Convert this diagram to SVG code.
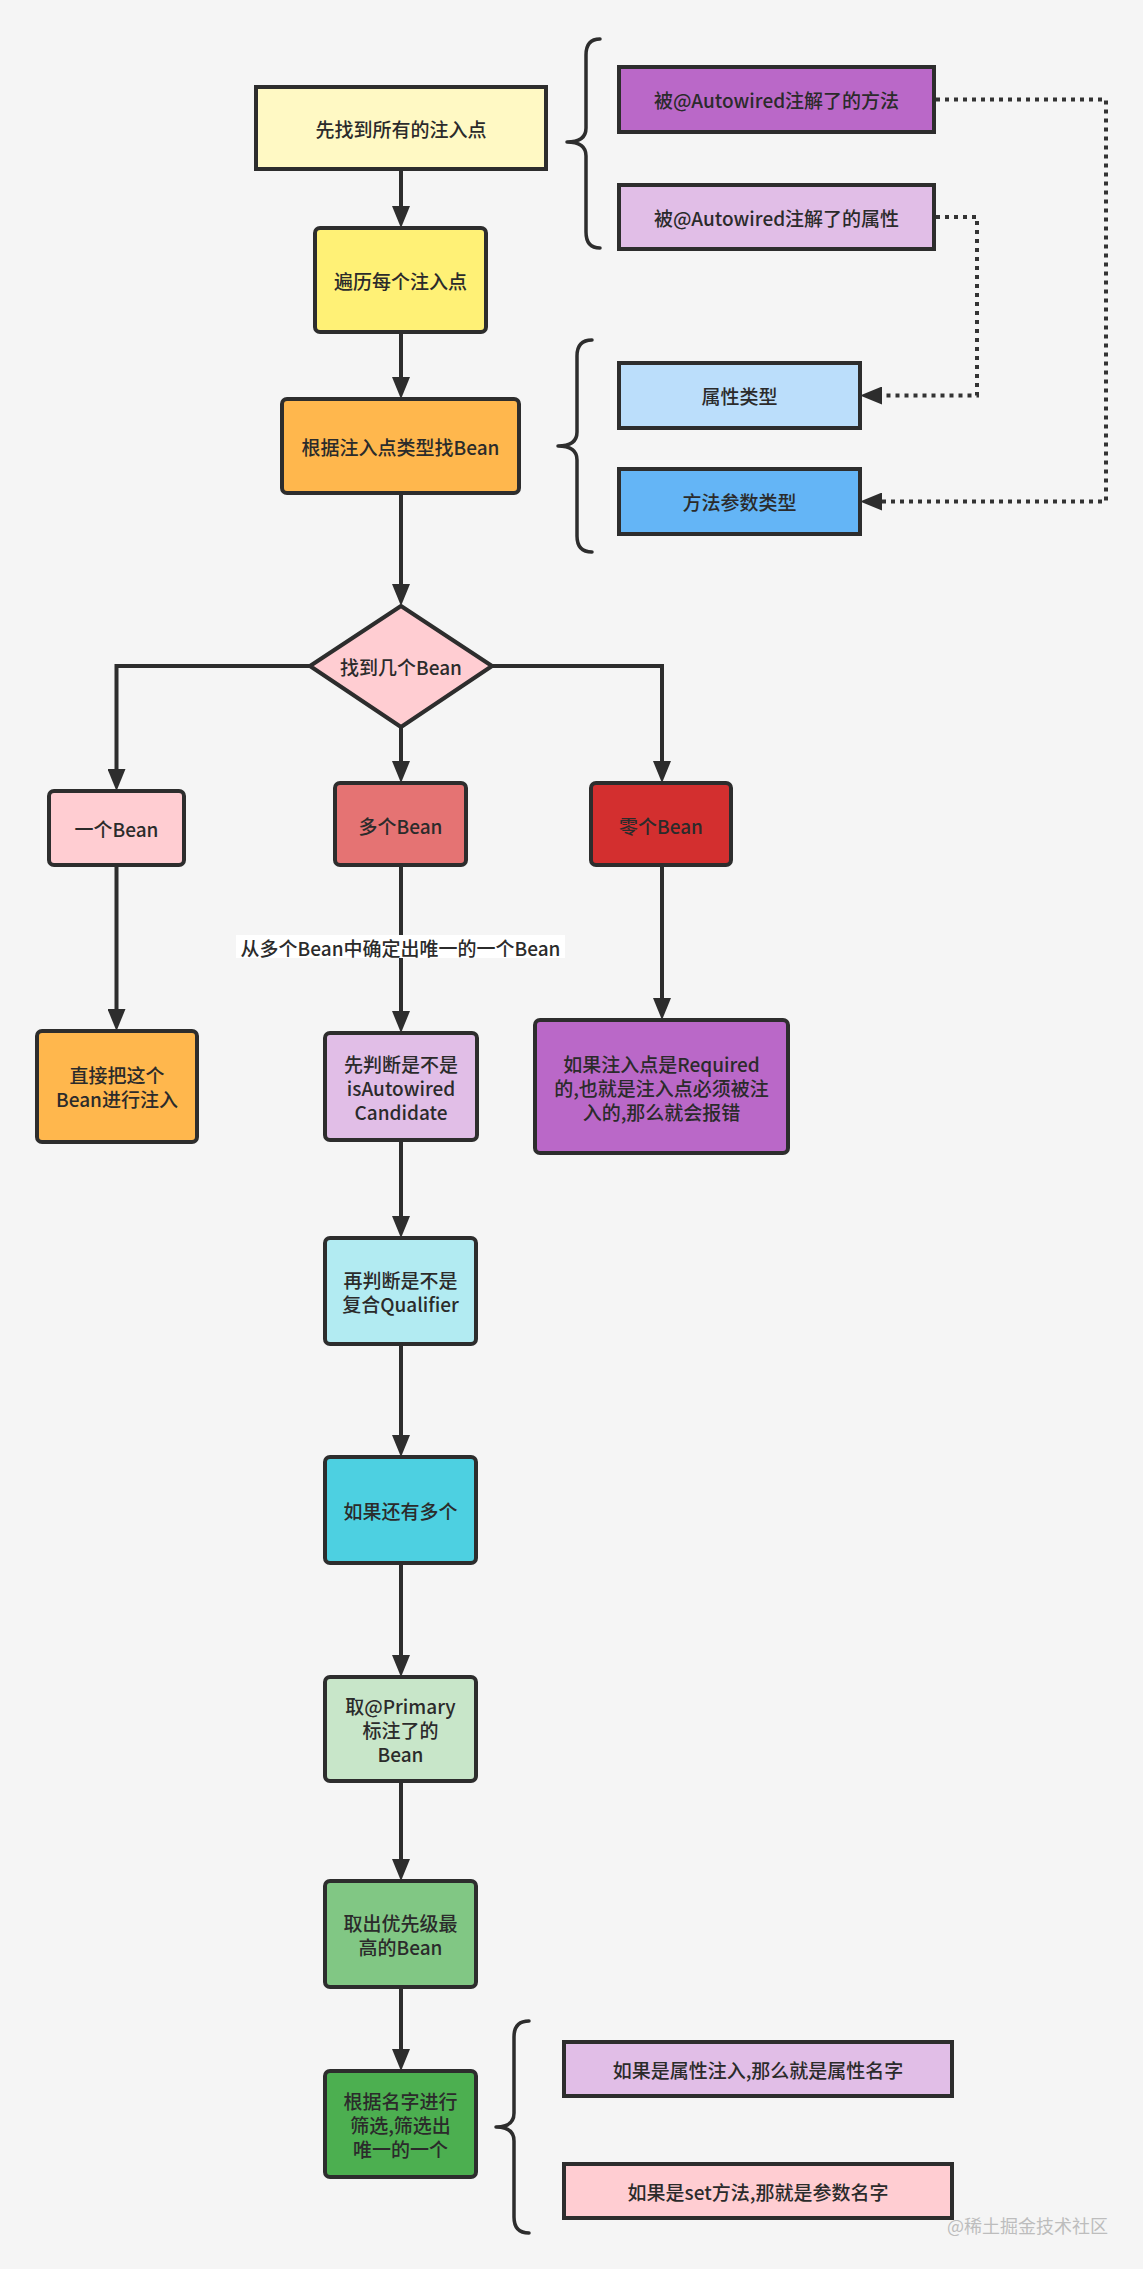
<svg xmlns="http://www.w3.org/2000/svg" width="1143" height="2269" viewBox="0 0 1143 2269">
<style>
.bg{fill:#f5f5f5}
.n{stroke:#2d2d2d;stroke-width:4}
.t{font-family:"Noto Sans CJK SC","Noto Sans",sans-serif;font-size:19px;font-weight:500;fill:#2b2b2b;text-anchor:middle;dominant-baseline:central}
.c{fill:none;stroke:#2d2d2d;stroke-width:4}
.d{fill:none;stroke:#333;stroke-width:4;stroke-dasharray:4 5}
.br{fill:none;stroke:#2d2d2d;stroke-width:3.5;stroke-linecap:round;stroke-linejoin:round}
.wm{font-family:"Noto Sans CJK SC",sans-serif;font-size:18px;fill:#bdbdbd;dominant-baseline:central}
</style>
<defs>
<marker id="ah" viewBox="0 0 22 18" refX="1" refY="9" markerWidth="22" markerHeight="18" markerUnits="userSpaceOnUse" orient="auto">
<path d="M0,0 L22,9 L0,18 Z" fill="#2d2d2d"/>
</marker>
</defs>
<rect class="bg" x="0" y="0" width="1143" height="2269"/>

<g id="connectors">
<path class="c" d="M401,169 L401,207" marker-end="url(#ah)"/>
<path class="c" d="M401,332 L401,378" marker-end="url(#ah)"/>
<path class="c" d="M401,493 L401,585" marker-end="url(#ah)"/>
<path class="c" d="M310,666 L116.5,666 L116.5,770" marker-end="url(#ah)"/>
<path class="c" d="M401,727 L401,762" marker-end="url(#ah)"/>
<path class="c" d="M492,666 L662,666 L662,762" marker-end="url(#ah)"/>
<path class="c" d="M116.5,865 L116.5,1010" marker-end="url(#ah)"/>
<path class="c" d="M401,865 L401,1012" marker-end="url(#ah)"/>
<path class="c" d="M662,865 L662,999" marker-end="url(#ah)"/>
<path class="c" d="M401,1140 L401,1217" marker-end="url(#ah)"/>
<path class="c" d="M401,1344 L401,1436" marker-end="url(#ah)"/>
<path class="c" d="M401,1563 L401,1656" marker-end="url(#ah)"/>
<path class="c" d="M401,1781 L401,1860" marker-end="url(#ah)"/>
<path class="c" d="M401,1987 L401,2050" marker-end="url(#ah)"/>
<path class="d" d="M936,99.5 L1106,99.5 L1106,501.5 L881,501.5" marker-end="url(#ah)"/>
<path class="d" d="M936,217 L977,217 L977,395.5 L881,395.5" marker-end="url(#ah)"/>
<rect x="236" y="935" width="329" height="23" fill="#ffffff"/>
<text class="t" x="400.5" y="947">从多个Bean中确定出唯一的一个Bean</text>
</g>

<g id="braces">
<path class="br" d="M600,39 Q586,39 586,55 L586,128 Q586,142 567,142 Q586,142 586,156 L586,232 Q586,248 600,248"/>
<path class="br" d="M592,340 Q577,340 577,356 L577,432 Q577,446 558,446 Q577,446 577,460 L577,536 Q577,552 592,552"/>
<path class="br" d="M529,2021 Q514,2021 514,2037 L514,2113 Q514,2127 496,2127 Q514,2127 514,2141 L514,2217 Q514,2233 529,2233"/>
</g>

<g id="n1"><rect class="n" x="256" y="87" width="290" height="82" fill="#fff9c4"/><text class="t" x="401" y="128">先找到所有的注入点</text></g>
<g id="n2"><rect class="n" x="315" y="228" width="171" height="104" rx="5" fill="#fff176"/><text class="t" x="400.5" y="280">遍历每个注入点</text></g>
<g id="n3"><rect class="n" x="282" y="399" width="237" height="94" rx="5" fill="#ffb74d"/><text class="t" x="400.5" y="446">根据注入点类型找Bean</text></g>
<g id="m1"><rect class="n" x="619" y="67" width="315" height="65" fill="#ba68c8"/><text class="t" x="776.5" y="99.5">被@Autowired注解了的方法</text></g>
<g id="m2"><rect class="n" x="619" y="185" width="315" height="64" fill="#e1bee7"/><text class="t" x="776.5" y="217">被@Autowired注解了的属性</text></g>
<g id="t1"><rect class="n" x="619" y="363" width="241" height="65" fill="#bbdefb"/><text class="t" x="739.5" y="395.5">属性类型</text></g>
<g id="t2"><rect class="n" x="619" y="469" width="241" height="65" fill="#64b5f6"/><text class="t" x="739.5" y="501.5">方法参数类型</text></g>
<g id="dec"><polygon class="n" points="401,606 492,666 401,727 310,666" fill="#ffcdd2" stroke-linejoin="round"/><text class="t" x="401" y="666">找到几个Bean</text></g>
<g id="one"><rect class="n" x="49" y="791" width="135" height="74" rx="5" fill="#ffcdd2"/><text class="t" x="116.5" y="828">一个Bean</text></g>
<g id="many"><rect class="n" x="335" y="783" width="131" height="82" rx="5" fill="#e57373"/><text class="t" x="400.5" y="825">多个Bean</text></g>
<g id="zero"><rect class="n" x="591" y="783" width="140" height="82" rx="5" fill="#d32f2f"/><text class="t" x="661" y="825">零个Bean</text></g>
<g id="direct"><rect class="n" x="37" y="1031" width="160" height="111" rx="5" fill="#ffb74d"/><text class="t" x="117" y="1074.5">直接把这个</text><text class="t" x="117" y="1098.5">Bean进行注入</text></g>
<g id="check1"><rect class="n" x="325" y="1033" width="152" height="107" rx="5" fill="#e1bee7"/><text class="t" x="401" y="1063">先判断是不是</text><text class="t" x="401" y="1087">isAutowired</text><text class="t" x="401" y="1111">Candidate</text></g>
<g id="error"><rect class="n" x="535" y="1020" width="253" height="133" rx="5" fill="#ba68c8"/><text class="t" x="661.5" y="1063">如果注入点是Required</text><text class="t" x="661.5" y="1087">的,也就是注入点必须被注</text><text class="t" x="661.5" y="1111">入的,那么就会报错</text></g>
<g id="check2"><rect class="n" x="325" y="1238" width="151" height="106" rx="5" fill="#b2ebf2"/><text class="t" x="400.5" y="1279">再判断是不是</text><text class="t" x="400.5" y="1303">复合Qualifier</text></g>
<g id="still"><rect class="n" x="325" y="1457" width="151" height="106" rx="5" fill="#4dd0e1"/><text class="t" x="400.5" y="1510">如果还有多个</text></g>
<g id="primary"><rect class="n" x="325" y="1677" width="151" height="104" rx="5" fill="#c8e6c9"/><text class="t" x="400.5" y="1705">取@Primary</text><text class="t" x="400.5" y="1729">标注了的</text><text class="t" x="400.5" y="1753">Bean</text></g>
<g id="priority"><rect class="n" x="325" y="1881" width="151" height="106" rx="5" fill="#81c784"/><text class="t" x="400.5" y="1922">取出优先级最</text><text class="t" x="400.5" y="1946">高的Bean</text></g>
<g id="byname"><rect class="n" x="325" y="2071" width="151" height="106" rx="5" fill="#4caf50"/><text class="t" x="400.5" y="2100">根据名字进行</text><text class="t" x="400.5" y="2124">筛选,筛选出</text><text class="t" x="400.5" y="2148">唯一的一个</text></g>
<g id="propname"><rect class="n" x="564" y="2042" width="388" height="54" fill="#e1bee7"/><text class="t" x="758" y="2069">如果是属性注入,那么就是属性名字</text></g>
<g id="setname"><rect class="n" x="564" y="2164" width="388" height="54" fill="#ffcdd2"/><text class="t" x="758" y="2191">如果是set方法,那就是参数名字</text></g>
<text class="wm" x="947" y="2225">@稀土掘金技术社区</text>
</svg>
